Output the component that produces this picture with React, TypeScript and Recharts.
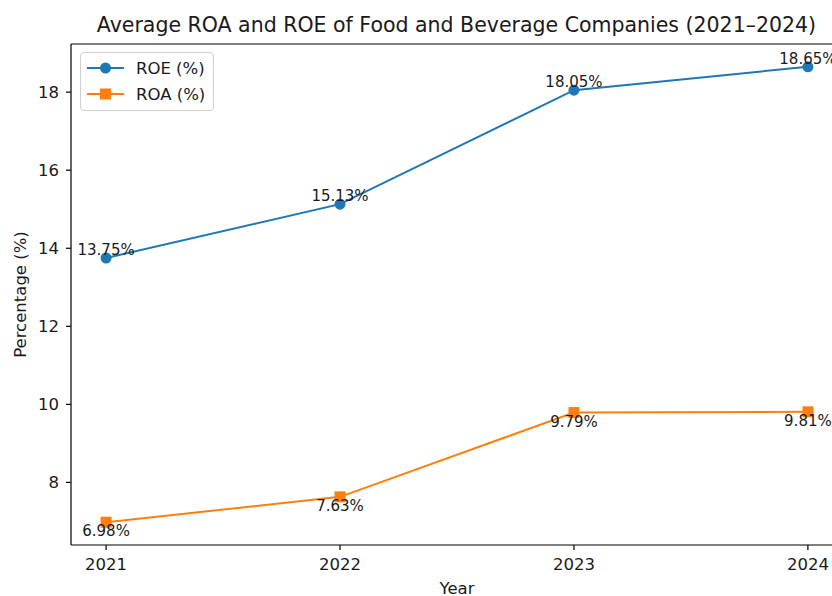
import { LineChart, Line, XAxis, YAxis, Legend, LabelList, Label, ReferenceLine } from 'recharts';

const years = [2021, 2022, 2023, 2024];
const roeValues = [13.75, 15.13, 18.05, 18.65];
const roaValues = [6.98, 7.63, 9.79, 9.81];
const yTicks = [8, 10, 12, 14, 16, 18];
const legendOrder = ['ROE (%)', 'ROA (%)'];

const data = years.map((year, i) => ({ year, roe: roeValues[i], roa: roaValues[i] }));

// matplotlib-style 5% padding around the data range
const xDomain: [number, number] = [2020.85, 2024.15];
const yMin = 6.98 - (18.65 - 6.98) * 0.05;
const yMax = 18.65 + (18.65 - 6.98) * 0.05;

const BLUE = '#1f77b4';
const ORANGE = '#ff7f0e';
const FONT = '"DejaVu Sans", sans-serif';
const TEXT = '#1a1a1a';
const TICK = { fontSize: 16.5, fill: TEXT, fontFamily: FONT } as const;

function SquareDot(props: any) {
  const { cx, cy } = props;
  if (cx == null || cy == null) return null;
  return <rect x={cx - 5.5} y={cy - 5.5} width={11} height={11} fill={ORANGE} />;
}

function pctLabel(dy: number) {
  return (props: any) => {
    const { x, y, value } = props;
    return (
      <text x={x} y={y + dy} textAnchor="middle" fontSize={15} fontFamily={FONT} fill={TEXT}>
        {`${Number(value).toFixed(2)}%`}
      </text>
    );
  };
}

function LegendBox({ payload }: any) {
  const items = [...(payload ?? [])].sort(
    (a: any, b: any) => legendOrder.indexOf(a.value) - legendOrder.indexOf(b.value),
  );
  return (
    <div
      style={{
        border: '1px solid #d0d0d0',
        borderRadius: 4,
        background: 'rgba(255,255,255,0.8)',
        padding: '2px 8px 3px 6px',
        fontFamily: FONT,
        fontSize: 16.5,
        color: TEXT,
      }}
    >
      {items.map((entry: any) => (
        <div key={entry.value} style={{ display: 'flex', alignItems: 'center', height: 26 }}>
          <svg width={38} height={14} style={{ marginRight: 11 }}>
            <line x1={0} y1={7} x2={37} y2={7} stroke={entry.color} strokeWidth={2} />
            {entry.value === 'ROE (%)' ? (
              <circle cx={18.5} cy={7} r={5.5} fill={entry.color} />
            ) : (
              <rect x={13} y={1.5} width={11} height={11} fill={entry.color} />
            )}
          </svg>
          <span>{entry.value}</span>
        </div>
      ))}
    </div>
  );
}

export default function App() {
  return (
    <div
      style={{
        position: 'absolute',
        left: 0,
        top: 0,
        width: 832,
        height: 596,
        overflow: 'hidden',
        background: '#fff',
      }}
    >
      <div
        style={{
          position: 'absolute',
          left: 0,
          width: 913,
          top: 13,
          textAlign: 'center',
          fontFamily: FONT,
          fontSize: 20.5,
          color: TEXT,
          whiteSpace: 'nowrap',
        }}
      >
        Average ROA and ROE of Food and Beverage Companies (2021–2024)
      </div>
      <div style={{ position: 'absolute', left: 0, top: 0 }}>
        <LineChart width={860} height={596} data={data} margin={{ top: 44, right: 17, bottom: 21, left: 21 }}>
          <XAxis
            dataKey="year"
            type="number"
            domain={xDomain}
            ticks={years}
            allowDataOverflow
            height={30}
            tick={TICK}
            tickSize={5}
            tickMargin={8}
            stroke="#000"
            strokeWidth={1.2}
          >
            <Label value="Year" position="bottom" offset={7} style={{ fontSize: 16.5, fill: TEXT, fontFamily: FONT }} />
          </XAxis>
          <YAxis
            type="number"
            domain={[yMin, yMax]}
            ticks={yTicks}
            allowDataOverflow
            width={50}
            tick={TICK}
            tickSize={5}
            tickMargin={7}
            stroke="#000"
            strokeWidth={1.2}
          >
            <Label
              value="Percentage (%)"
              angle={-90}
              position="insideLeft"
              offset={-1}
              style={{ fontSize: 16.5, fill: TEXT, fontFamily: FONT, textAnchor: 'middle' }}
            />
          </YAxis>
          <ReferenceLine y={yMax} stroke="#000" strokeWidth={1.2} />
          <ReferenceLine x={xDomain[1]} stroke="#000" strokeWidth={1.2} />
          <Legend
            layout="horizontal"
            verticalAlign="middle"
            align="center"
            wrapperStyle={{ left: 80, top: 52, width: 'auto' }}
            content={<LegendBox />}
          />
          <Line
            dataKey="roe"
            name="ROE (%)"
            stroke={BLUE}
            strokeWidth={2}
            dot={{ r: 5.5, fill: BLUE, stroke: 'none' }}
            activeDot={false}
            isAnimationActive={false}
          >
            <LabelList dataKey="roe" content={pctLabel(-3)} />
          </Line>
          <Line
            dataKey="roa"
            name="ROA (%)"
            stroke={ORANGE}
            strokeWidth={2}
            dot={<SquareDot />}
            legendType="square"
            activeDot={false}
            isAnimationActive={false}
          >
            <LabelList dataKey="roa" content={pctLabel(14)} />
          </Line>
        </LineChart>
      </div>
    </div>
  );
}
